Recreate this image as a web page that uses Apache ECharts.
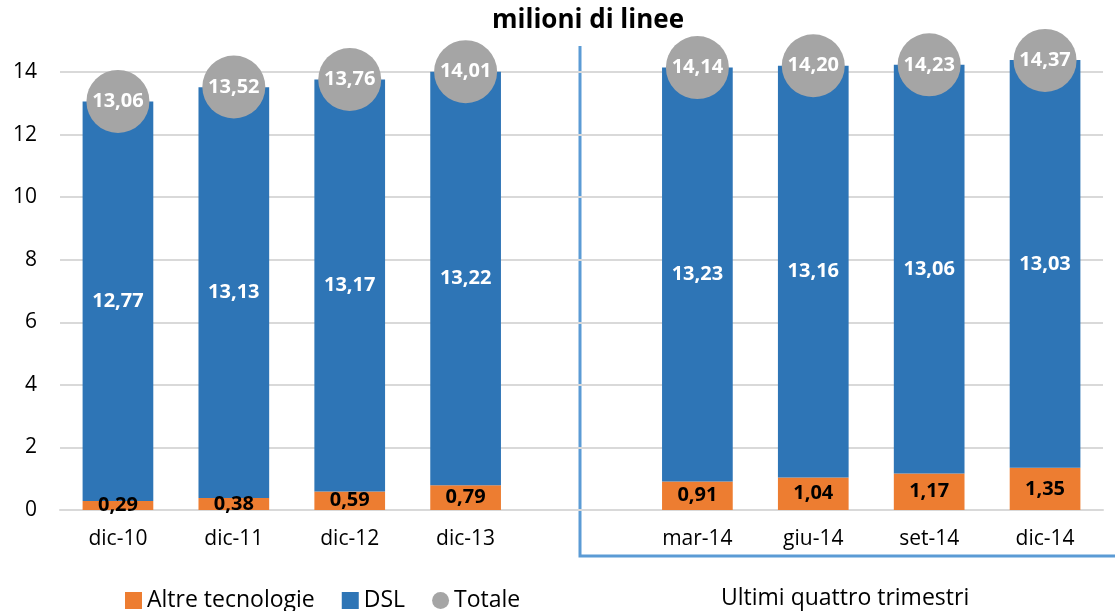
<!DOCTYPE html>
<html>
<head>
<meta charset="utf-8">
<script src="https://cdn.jsdelivr.net/npm/echarts@6/dist/echarts.min.js"></script>
<style>
  html, body { margin: 0; padding: 0; background: #fff; }
  #chart { width: 1115px; height: 611px; }
</style>
</head>
<body>
<div id="chart"></div>
<script>
  // categorie (slot vuoto tra dic-13 e mar-14)
  const categories = ['dic-10', 'dic-11', 'dic-12', 'dic-13', '', 'mar-14', 'giu-14', 'set-14', 'dic-14']
  const altre = [0.29, 0.38, 0.59, 0.79, null, 0.91, 1.04, 1.17, 1.35]
  const dsl = [12.77, 13.13, 13.17, 13.22, null, 13.23, 13.16, 13.06, 13.03]
  const totale = [13.06, 13.52, 13.76, 14.01, null, 14.14, 14.20, 14.23, 14.37]
  const yTicks = [0, 2, 4, 6, 8, 10, 12, 14]

  const font = "'Open Sans', 'Noto Sans', sans-serif"
  const fmt = v => v.toFixed(2).replace('.', ',')

  let chart = echarts.init(document.getElementById('chart'))

  let option = {
    animation: false,
    title: {
      text: 'milioni di linee',
      left: 583,
      textAlign: 'center',
      top: 3,
      textStyle: {fontFamily: font, fontSize: 26, fontWeight: 'bold', color: '#000'}
    },
    legend: {
      left: 120,
      top: 584,
      itemWidth: 17,
      itemHeight: 17,
      itemGap: 27,
      textStyle: {fontFamily: font, fontSize: 23, color: '#000'},
      data: [
        {name: 'Altre tecnologie', icon: 'rect'},
        {name: 'DSL', icon: 'rect'},
        {name: 'Totale', icon: 'circle'}
      ]
    },
    grid: {left: 60, right: 12, top: 72, bottom: 101},
    xAxis: {
      type: 'category',
      data: categories,
      axisLine: {lineStyle: {color: '#d9d9d9', width: 2}},
      axisTick: {show: false},
      axisLabel: {fontFamily: font, fontSize: 21, color: '#000', margin: 19}
    },
    yAxis: {
      type: 'value',
      min: yTicks[0],
      max: yTicks[yTicks.length - 1],
      interval: 2,
      axisLine: {show: false},
      axisTick: {show: false},
      splitLine: {lineStyle: {color: '#d9d9d9', width: 2}},
      axisLabel: {fontFamily: font, fontSize: 21, color: '#000', margin: 23}
    },
    series: [
      {
        name: 'Altre tecnologie',
        type: 'bar',
        stack: 'tot',
        barWidth: '61%',
        clip: false,
        itemStyle: {color: '#ed7d31'},
        label: {
          show: true,
          position: 'inside',
          fontFamily: font, fontSize: 20, fontWeight: 'bold', color: '#000',
          formatter: p => fmt(p.value)
        },
        data: altre
      },
      {
        name: 'DSL',
        type: 'bar',
        stack: 'tot',
        clip: false,
        itemStyle: {color: '#2e75b6'},
        label: {
          show: true,
          position: 'inside',
          fontFamily: font, fontSize: 20, fontWeight: 'bold', color: '#fff',
          formatter: p => fmt(p.value)
        },
        data: dsl
      },
      {
        name: 'Totale',
        type: 'scatter',
        symbolSize: 63,
        clip: false,
        itemStyle: {color: '#a5a5a5', opacity: 1},
        label: {
          show: true,
          position: 'inside',
          fontFamily: font, fontSize: 20, fontWeight: 'bold', color: '#fff',
          formatter: p => fmt(p.value)
        },
        z: 5,
        data: totale
      }
    ],
    graphic: [
      {
        type: 'polyline',
        shape: {points: [[580, 46], [580, 556], [1115, 556]]},
        style: {stroke: '#5b9bd5', lineWidth: 3, fill: null}
      },
      {
        type: 'text',
        left: 721,
        top: 587,
        style: {text: 'Ultimi quattro trimestri', fontFamily: font, fontSize: 23, fill: '#000'}
      }
    ]
  }

  chart.setOption(option)
</script>
</body>
</html>
